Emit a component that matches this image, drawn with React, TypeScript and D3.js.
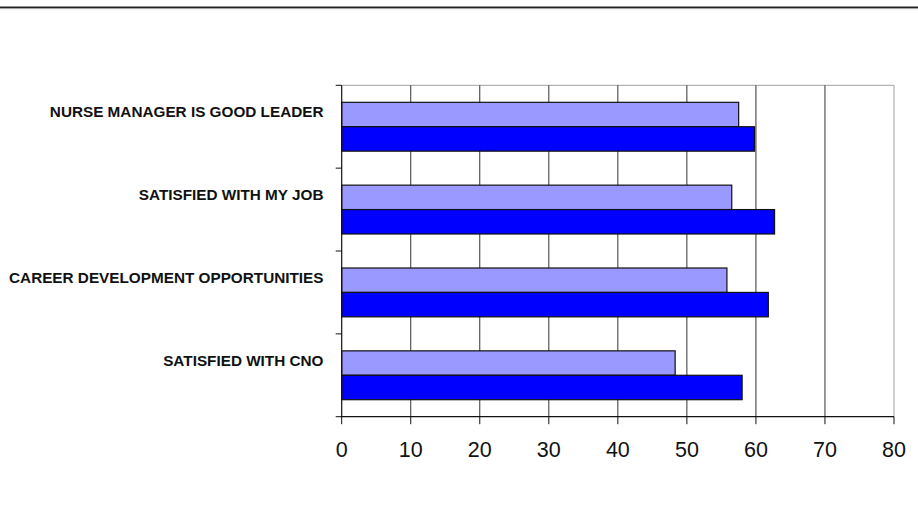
import React from "react";
import * as d3 from "d3";

const categories = [
  "NURSE MANAGER IS GOOD LEADER",
  "SATISFIED WITH MY JOB",
  "CAREER DEVELOPMENT OPPORTUNITIES",
  "SATISFIED WITH CNO",
];
const seriesNames = ["Series A", "Series B"];
const seriesLight = [57.5, 56.5, 55.8, 48.3];
const seriesDark = [59.8, 62.7, 61.8, 58.0];
const xTicks = [0, 10, 20, 30, 40, 50, 60, 70, 80];

const W = 918;
const H = 525;
const left = 341.7;
const right = 894;
const top = 85.3;
const bottom = 416.7;
const colors = ["#9999FF", "#0000FF"];

export default function App() {
  const x = d3.scaleLinear().domain([0, 80]).range([left, right]);
  const y = d3.scaleBand<string>().domain(categories).range([top, bottom]);
  const groupPad = 17;
  const barH = (y.bandwidth() - 2 * groupPad) / 2 + 1;
  const series = [seriesLight, seriesDark];

  return (
    <svg
      width={W}
      height={H}
      style={{ position: "absolute", left: 0, top: 0, background: "#fff" }}
      fontFamily="'Liberation Sans', Arial, sans-serif"
    >
      <rect x={0} y={0} width={W} height={H} fill="#fff" />
      {/* top border */}
      <line x1={0} x2={W} y1={7.2} y2={7.2} stroke="#222" strokeWidth={1.6} />
      <line x1={0} x2={W} y1={8.6} y2={8.6} stroke="#999" strokeWidth={1} />

      {/* plot border (top & right) */}
      <line x1={left} x2={right} y1={top} y2={top} stroke="#a0a0a0" strokeWidth={1} />
      {/* gridlines */}
      {xTicks.slice(1).map((t) => (
        <line
          key={"g" + t}
          x1={x(t)}
          x2={x(t)}
          y1={top}
          y2={bottom}
          stroke={t === 80 ? "#a0a0a0" : "#333"}
          strokeWidth={1}
        />
      ))}

      {/* bars */}
      {categories.map((c, i) => (
        <g key={c}>
          {series.map((s, j) => (
            <rect
              key={seriesNames[j]}
              x={x(0)}
              y={(y(c) as number) + groupPad + j * (barH - 1)}
              width={x(s[i]) - x(0)}
              height={barH - 1}
              fill={colors[j]}
              stroke="#111"
              strokeWidth={1.2}
            />
          ))}
        </g>
      ))}

      {/* y axis */}
      <line x1={left} x2={left} y1={top} y2={bottom} stroke="#111" strokeWidth={1.2} />
      {[...categories.map((c) => y(c) as number), bottom].map((yy, i) => (
        <line key={"yt" + i} x1={left - 6} x2={left} y1={yy} y2={yy} stroke="#111" strokeWidth={1} />
      ))}
      {categories.map((c) => (
        <text
          key={"l" + c}
          x={323.5}
          y={(y(c) as number) + 31.8}
          textAnchor="end"
          fontWeight="bold"
          fontSize={15.3}
          fill="#111"
        >
          {c}
        </text>
      ))}

      {/* x axis */}
      <line x1={left - 1} x2={right} y1={bottom} y2={bottom} stroke="#111" strokeWidth={1.2} />
      {xTicks.map((t) => (
        <g key={"xt" + t}>
          <line x1={x(t)} x2={x(t)} y1={bottom} y2={bottom + 7.5} stroke="#111" strokeWidth={1} />
          <text x={x(t)} y={457} textAnchor="middle" fontSize={21.5} fill="#111">
            {t}
          </text>
        </g>
      ))}
    </svg>
  );
}
